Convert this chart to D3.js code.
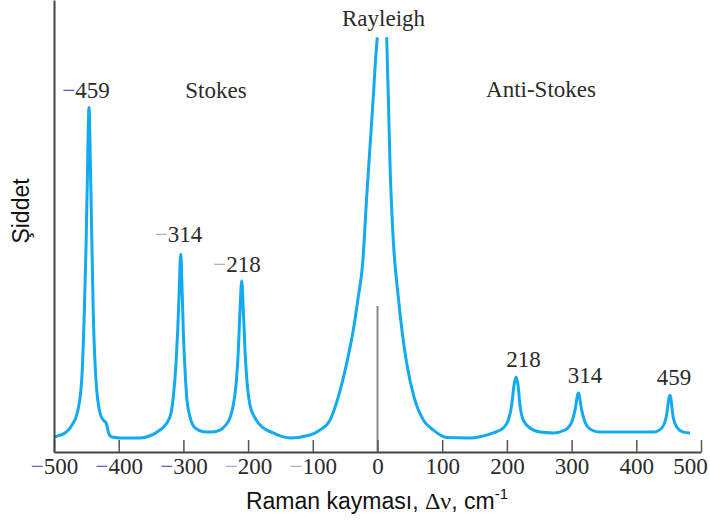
<!DOCTYPE html>
<html>
<head>
<meta charset="utf-8">
<script src="https://cdn.jsdelivr.net/npm/d3@7"></script>
<style>
  body { margin: 0; background: #fff; }
  svg { display: block; }
</style>
</head>
<body>
<div id="chart"></div>
<script>
// Raman spectrum: shift in cm-1, intensity in arbitrary units
// (null = the Rayleigh line runs off the top of the plot)
const shift = [
  -500, -493.8, -483, -474.2, -464, -457.2, -453.2, -450.5, -448.5, -445.9,
  -443.3, -441.3, -439.3, -435.1, -428.9, -423.8, -419.6, -417.6, -415.8, -410.4,
  -398, -367.1, -336.2, -320.7, -315.6, -311.4, -308.8, -306.8, -304.2, -301.7,
  -300.2, -298, -294.9, -289.8, -282.1, -269.2, -258.9, -243.4, -235.7, -228,
  -222.9, -218.7, -215.1, -212.5, -209.9, -207.4, -204.8, -201.2, -197.1, -189.3,
  -176.5, -161, -150.7, -135.2, -104.3, -88.9, -73.4, -60.6, -47.6, -37.4,
  -29.7, -22.9, -16.7, -11.6, -6.5, -3.4, -0.3, 7, 14.2, 16.7,
  19.3, 23.5, 32.1, 45.1, 56.4, 70.8, 86.2, 107, 143, 158.4,
  179, 194.4, 202.2, 207.4, 211, 214.1, 217.2, 220.2, 225.3, 235.7,
  251.2, 271.7, 289.8, 300.2, 305.3, 310.4, 315.6, 320.7, 331.1, 343.9,
  426.3, 439.3, 445.9, 452.1, 457.2, 463.4, 472.6, 483
];
const intensity = [
  3.6, 3.9, 4.6, 6.0, 9.4, 17.3, 33.5, 49.4, 65.5, 83.1,
  65.5, 49.4, 33.5, 17.3, 9.4, 7.7, 7.0, 6.0, 4.6, 3.6,
  3.4, 3.4, 5.3, 8.5, 13.3, 21.4, 29.4, 37.4, 47.7, 37.4,
  29.4, 21.4, 13.3, 8.5, 5.8, 4.9, 4.8, 5.3, 6.3, 8.2,
  11.3, 16.1, 24.6, 34.2, 41.3, 34.2, 24.6, 16.1, 11.3, 8.2,
  5.8, 4.6, 3.9, 3.4, 4.1, 5.3, 7.7, 13.3, 21.4, 29.4,
  37.4, 45.5, 61.5, 73.6, 85.6, 93.7, 100, null, 100, 85.6,
  69.6, 53.5, 37.4, 21.4, 13.3, 7.7, 5.3, 3.5, 3.4, 3.7,
  4.6, 5.8, 7.7, 11.3, 16.1, 18.1, 16.1, 11.3, 7.7, 5.8,
  4.8, 4.6, 5.3, 7.2, 10.1, 14.2, 10.1, 7.2, 5.3, 4.8,
  4.8, 5.8, 8.2, 13.7, 8.2, 5.8, 4.8, 4.6
];

const xTicks = [-500, -400, -300, -200, -100, 0, 100, 200, 300, 400, 500];
const rayleighMark = 35.2;   // grey marker at 0 cm-1

const labelText = ['−459', 'Stokes', '−314', '−218', 'Rayleigh', 'Anti-Stokes', '218', '314', '459'];
const labelX    = [-450.5, -249.6, -307.6, -217.2, 9.3, 252.7, 225.7, 320.7, 458.3];
const labelY    = [85.3, 85.3, 50.6, 43.4, 102.7, 85.5, 20.5, 16.6, 16.1];

const W = 710, H = 521;
const margin = {left: 54, right: 9, top: 0, bottom: 69};
const serif = '"Liberation Serif", "Times New Roman", serif';
const sans = '"Liberation Sans", Arial, sans-serif';
const blue = '#12aaf0';

const svg = d3.select('#chart').append('svg')
  .attr('width', W).attr('height', H);

const x = d3.scaleLinear().domain([-500, 500]).range([margin.left, W - margin.right]);
const y = d3.scaleLinear().domain([0, 109]).range([H - margin.bottom, margin.top]);

const points = shift.map((s, i) => [s, intensity[i]]);

// grey marker line at zero shift
svg.append('line')
  .attr('x1', x(0)).attr('x2', x(0))
  .attr('y1', y(0)).attr('y2', y(rayleighMark))
  .attr('stroke', '#8a8a8a').attr('stroke-width', 2);

// spectrum
const line = d3.line()
  .defined(d => d[1] != null)
  .x(d => x(d[0]))
  .y(d => y(d[1]))
  .curve(d3.curveMonotoneX);

svg.append('path')
  .datum(points)
  .attr('d', line)
  .attr('fill', 'none')
  .attr('stroke', blue)
  .attr('stroke-width', 3)
  .attr('stroke-linejoin', 'round');

// axes
const xAxis = svg.append('g')
  .attr('transform', `translate(0,${y(0)})`)
  .call(d3.axisBottom(x).tickValues(xTicks).tickSizeInner(-12).tickSizeOuter(0).tickPadding(6));

xAxis.select('.domain').attr('stroke', '#444').attr('stroke-width', 2);
xAxis.selectAll('.tick line').attr('stroke', '#555').attr('stroke-width', 1.5);
xAxis.selectAll('.tick text')
  .attr('font-family', serif)
  .attr('font-size', 23)
  .attr('fill', '#2a2a2a')
  .attr('dx', d => d === 500 ? -11 : 0)
  .each(function (d) {
    const t = d3.select(this);
    t.text(null);
    if (d < 0) {
      t.append('tspan').attr('fill', d <= -300 ? '#6262b8' : '#aeaed8').text('−');
    }
    t.append('tspan').text(Math.abs(d));
  });

const yAxis = svg.append('g')
  .attr('transform', `translate(${margin.left},0)`)
  .call(d3.axisLeft(y).tickValues([]).tickSizeOuter(0));
yAxis.select('.domain').attr('stroke', '#444').attr('stroke-width', 2);

// peak labels
const minusColor = {'−459': '#5a5ac8', '−314': '#aeaed8', '−218': '#aeaed8'};
labelText.forEach((txt, i) => {
  const t = svg.append('text')
    .attr('x', x(labelX[i]))
    .attr('y', y(labelY[i]))
    .attr('text-anchor', 'middle')
    .attr('font-family', serif)
    .attr('font-size', 23)
    .attr('fill', '#2a2a2a');
  if (txt.startsWith('−')) {
    t.append('tspan').attr('fill', minusColor[txt]).text('−');
    t.append('tspan').text(txt.slice(1));
  } else {
    t.text(txt);
  }
});

// axis titles
const xt = svg.append('text')
  .attr('x', 377).attr('y', 509)
  .attr('text-anchor', 'middle')
  .attr('font-family', sans)
  .attr('font-size', 23)
  .attr('fill', '#111');
xt.append('tspan').text('Raman kayması, ');
xt.append('tspan').attr('font-family', serif).attr('font-size', 24).text('Δν');
xt.append('tspan').text(', cm');
xt.append('tspan').attr('font-size', 15).attr('dy', -10).text('-1');

svg.append('text')
  .attr('transform', 'translate(29,211) rotate(-90)')
  .attr('text-anchor', 'middle')
  .attr('font-family', sans)
  .attr('font-size', 23)
  .attr('fill', '#111')
  .text('Şiddet');
</script>
</body>
</html>
